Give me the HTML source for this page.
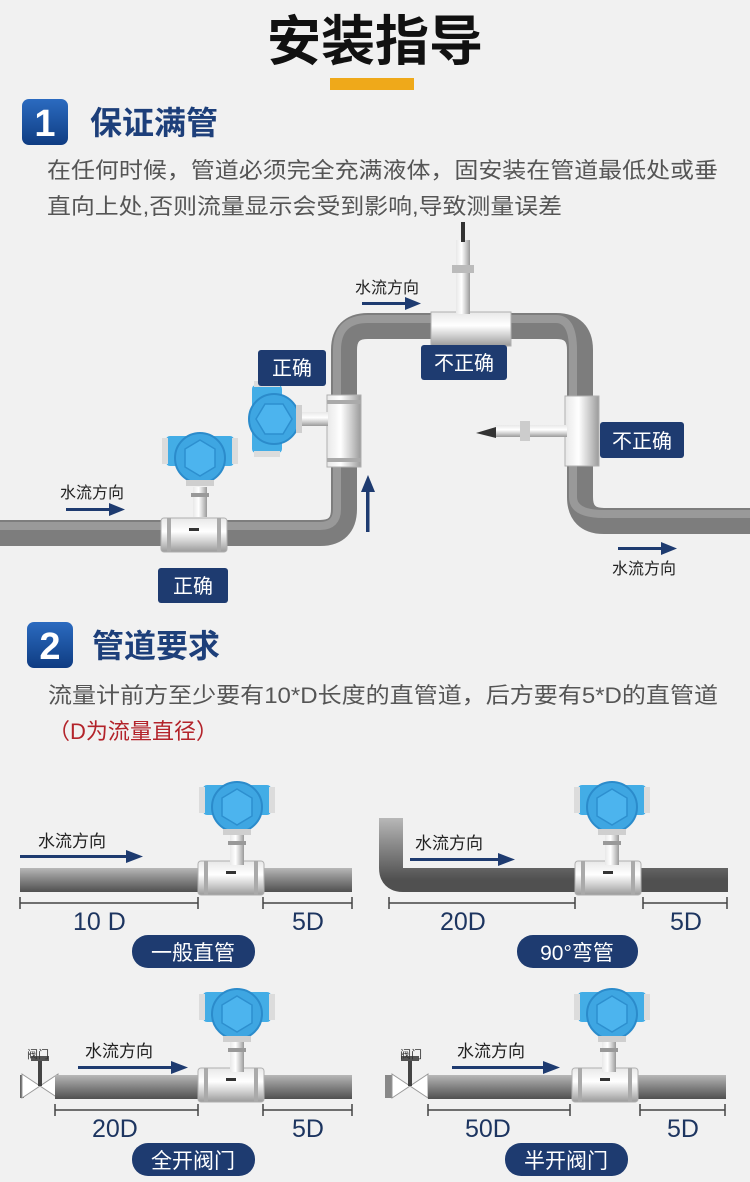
<!DOCTYPE html>
<html><head><meta charset="utf-8">
<style>
html,body{margin:0;padding:0;background:#f1f1f1;}
svg{display:block;}
text{font-family:"Liberation Sans","Noto Sans CJK SC",sans-serif;}
</style></head>
<body>
<svg width="750" height="1182" viewBox="0 0 750 1182" xmlns="http://www.w3.org/2000/svg">
<defs>
<linearGradient id="ph" x1="0" y1="0" x2="0" y2="1">
<stop offset="0" stop-color="#b8b8b8"/><stop offset="0.35" stop-color="#929292"/><stop offset="1" stop-color="#505050"/></linearGradient>
<linearGradient id="sv" x1="0" y1="0" x2="0" y2="1">
<stop offset="0" stop-color="#e8e8e8"/><stop offset="0.4" stop-color="#ffffff"/><stop offset="0.7" stop-color="#cfcfcf"/><stop offset="1" stop-color="#9a9a9a"/></linearGradient>
<linearGradient id="svh" x1="0" y1="0" x2="1" y2="0">
<stop offset="0" stop-color="#e8e8e8"/><stop offset="0.4" stop-color="#ffffff"/><stop offset="0.7" stop-color="#cfcfcf"/><stop offset="1" stop-color="#9a9a9a"/></linearGradient>
<linearGradient id="bdg" x1="0" y1="0" x2="0" y2="1">
<stop offset="0" stop-color="#2b6bc0"/><stop offset="1" stop-color="#0f3c82"/></linearGradient>
<g id="head">
<rect x="-34" y="-22" width="68" height="30" rx="4" fill="#43ade6"/>
<rect x="-38" y="-20" width="6" height="26" fill="#dcdcdc"/>
<rect x="32" y="-20" width="6" height="26" fill="#dcdcdc"/>
<circle cx="0" cy="0" r="25" fill="#3ea6e2" stroke="#2b8bcb" stroke-width="2"/>
<polygon points="0,-18 15,-9 15,9 0,18 -15,9 -15,-9" fill="#4cb4ee" stroke="#2d8fcf" stroke-width="1.5"/>
<rect x="-14" y="22" width="28" height="6" fill="#cfcfcf"/>
</g>
<g id="stem">
<rect x="-7" y="0" width="14" height="30" fill="url(#svh)"/>
<rect x="-9" y="6" width="18" height="4" fill="#999"/>
</g>
<g id="fit">
<rect x="0" y="-4" width="66" height="34" rx="3" fill="url(#sv)" stroke="#b0b0b0"/>
<rect x="6" y="-4" width="4" height="34" fill="#aaa"/>
<rect x="56" y="-4" width="4" height="34" fill="#aaa"/>
<rect x="28" y="6" width="10" height="3" fill="#333"/>
</g>
<g id="valve">
<polygon points="0,0 18,12 0,24" fill="#fff" stroke="#999"/>
<polygon points="36,0 18,12 36,24" fill="#fff" stroke="#999"/>
<rect x="16" y="-14" width="4" height="26" fill="#444"/>
<rect x="9" y="-18" width="18" height="5" fill="#555"/>
</g>
</defs>

<!-- Header -->
<text x="375" y="60" text-anchor="middle" font-size="54" font-weight="bold" fill="#111">安装指导</text>
<rect x="330" y="78" width="84" height="12" fill="#efa91a"/>
<rect x="22" y="99" width="46" height="46" rx="7" fill="url(#bdg)"/>
<text x="45" y="136" text-anchor="middle" font-size="38" font-weight="bold" fill="#fff">1</text>
<text x="90" y="134" font-size="32" font-weight="bold" fill="#1d3f7a">保证满管</text>
<text x="47" y="178" font-size="22" fill="#555" textLength="671" lengthAdjust="spacingAndGlyphs">在任何时候，管道必须完全充满液体，固安装在管道最低处或垂</text>
<text x="47" y="214" font-size="22" fill="#555" textLength="515" lengthAdjust="spacingAndGlyphs">直向上处,否则流量显示会受到影响,导致测量误差</text>

<!-- Section 1 pipes -->
<path d="M0,533 H320 Q344,533 344,509 V350 Q344,326 368,326 H556 Q580,326 580,350 V497 Q580,521 604,521 H750" fill="none" stroke="#7d7d7d" stroke-width="26"/>
<path d="M0,526 H320 Q337,526 337,509 V350 Q337,319 368,319 H556 Q573,319 573,350 V497 Q573,514 604,514 H750" fill="none" stroke="#a5a5a5" stroke-width="8" opacity="0.7"/>
<!-- meter 1 -->
<use href="#fit" x="161" y="522"/>
<use href="#stem" x="200" y="487"/>
<use href="#head" x="200" y="458"/>
<!-- meter 2 (sideways) -->
<rect x="327" y="395" width="34" height="72" fill="url(#svh)" stroke="#b0b0b0"/>
<rect x="327" y="400" width="34" height="4" fill="#aaa"/>
<rect x="327" y="458" width="34" height="4" fill="#aaa"/>
<rect x="298" y="412" width="30" height="14" fill="url(#sv)"/>
<g transform="translate(274,419) rotate(-90)"><use href="#head"/></g>
<!-- top meter incorrect -->
<rect x="431" y="312" width="80" height="34" fill="url(#sv)" stroke="#b0b0b0"/>
<rect x="456" y="240" width="14" height="74" fill="url(#svh)"/>
<rect x="452" y="265" width="22" height="8" fill="#bbb"/>
<rect x="461" y="222" width="4" height="20" fill="#333"/>
<!-- right meter incorrect -->
<rect x="565" y="396" width="34" height="70" fill="url(#svh)" stroke="#b0b0b0"/>
<rect x="495" y="425" width="72" height="12" fill="url(#sv)"/>
<rect x="520" y="421" width="10" height="20" fill="#ccc"/>
<polygon points="476,433 496,427 496,438" fill="#333"/>
<!-- labels -->
<rect x="258" y="350" width="68" height="36" rx="3" fill="#1e3b70"/>
<text x="292" y="375" text-anchor="middle" font-size="20" fill="#fff">正确</text>
<rect x="421" y="345" width="86" height="35" rx="3" fill="#1e3b70"/>
<text x="464" y="370" text-anchor="middle" font-size="20" fill="#fff">不正确</text>
<rect x="600" y="422" width="84" height="36" rx="3" fill="#1e3b70"/>
<text x="642" y="448" text-anchor="middle" font-size="20" fill="#fff">不正确</text>
<rect x="158" y="568" width="70" height="35" rx="3" fill="#1e3b70"/>
<text x="193" y="593" text-anchor="middle" font-size="20" fill="#fff">正确</text>
<!-- arrows -->
<g fill="#1e3b70">
<text x="355" y="293" font-size="16" fill="#222">水流方向</text>
<rect x="362" y="302" width="45" height="3"/><polygon points="405,297 421,303.5 405,310"/>
<text x="60" y="498" font-size="16" fill="#222">水流方向</text>
<rect x="66" y="508" width="45" height="3"/><polygon points="109,503 125,509.5 109,516"/>
<rect x="366" y="490" width="3.5" height="42"/><polygon points="361,492 368,475 375,492"/>
<text x="612" y="574" font-size="16" fill="#222">水流方向</text>
<rect x="618" y="547" width="45" height="3"/><polygon points="661,542 677,548.5 661,555"/>
</g>

<!-- Section 2 -->
<rect x="27" y="622" width="46" height="46" rx="7" fill="url(#bdg)"/>
<text x="50" y="659" text-anchor="middle" font-size="38" font-weight="bold" fill="#fff">2</text>
<text x="92" y="657" font-size="32" font-weight="bold" fill="#1d3f7a">管道要求</text>
<text x="48" y="703" font-size="22" fill="#555" textLength="670" lengthAdjust="spacingAndGlyphs">流量计前方至少要有10*D长度的直管道，后方要有5*D的直管道</text>
<text x="48" y="739" font-size="22" fill="#b3232a" textLength="170" lengthAdjust="spacingAndGlyphs">（D为流量直径）</text>

<!-- Panel 1 -->
<rect x="20" y="868" width="332" height="24" fill="url(#ph)"/>
<use href="#fit" x="198" y="865"/>
<use href="#stem" x="237" y="835"/>
<use href="#head" x="237" y="807"/>
<text x="38" y="847" font-size="17" fill="#222">水流方向</text>
<rect x="20" y="855" width="108" height="3" fill="#1e3b70"/><polygon points="126,850 143,856.5 126,863" fill="#1e3b70"/>
<g stroke="#444" stroke-width="1.5"><path d="M20,903 H198 M20,897 V909 M198,897 V909 M263,903 H352 M263,897 V909 M352,897 V909"/></g>
<text x="73" y="930" font-size="25" fill="#1d3560">10 D</text>
<text x="292" y="930" font-size="25" fill="#1d3560">5D</text>
<rect x="132" y="935" width="123" height="33" rx="16" fill="#1e3b70"/>
<text x="193" y="960" text-anchor="middle" font-size="21" fill="#fff">一般直管</text>

<!-- Panel 2 -->
<path d="M391,818 V868 Q391,880 403,880 H728" fill="none" stroke="url(#ph)" stroke-width="24"/>
<use href="#fit" x="575" y="865"/>
<use href="#stem" x="612" y="835"/>
<use href="#head" x="612" y="807"/>
<text x="415" y="849" font-size="17" fill="#222">水流方向</text>
<rect x="410" y="858" width="90" height="3" fill="#1e3b70"/><polygon points="498,853 515,859.5 498,866" fill="#1e3b70"/>
<g stroke="#444" stroke-width="1.5"><path d="M389,903 H575 M389,897 V909 M575,897 V909 M643,903 H727 M643,897 V909 M727,897 V909"/></g>
<text x="440" y="930" font-size="25" fill="#1d3560">20D</text>
<text x="670" y="930" font-size="25" fill="#1d3560">5D</text>
<rect x="517" y="935" width="121" height="33" rx="16" fill="#1e3b70"/>
<text x="577" y="960" text-anchor="middle" font-size="21" fill="#fff">90°弯管</text>

<!-- Panel 3 -->
<rect x="20" y="1075" width="4" height="23" fill="#666"/>
<use href="#valve" x="22" y="1074"/>
<rect x="55" y="1075" width="297" height="24" fill="url(#ph)"/>
<use href="#fit" x="198" y="1072"/>
<use href="#stem" x="237" y="1042"/>
<use href="#head" x="237" y="1014"/>
<text x="27" y="1058" font-size="11" fill="#333">阀门</text>
<text x="85" y="1057" font-size="17" fill="#222">水流方向</text>
<rect x="78" y="1066" width="95" height="3" fill="#1e3b70"/><polygon points="171,1061 188,1067.5 171,1074" fill="#1e3b70"/>
<g stroke="#444" stroke-width="1.5"><path d="M55,1110 H198 M55,1104 V1116 M198,1104 V1116 M263,1110 H352 M263,1104 V1116 M352,1104 V1116"/></g>
<text x="92" y="1137" font-size="25" fill="#1d3560">20D</text>
<text x="292" y="1137" font-size="25" fill="#1d3560">5D</text>
<rect x="132" y="1143" width="123" height="33" rx="16" fill="#1e3b70"/>
<text x="193" y="1168" text-anchor="middle" font-size="21" fill="#fff">全开阀门</text>

<!-- Panel 4 -->
<rect x="385" y="1075" width="8" height="23" fill="#888"/>
<use href="#valve" x="392" y="1074"/>
<rect x="428" y="1075" width="298" height="24" fill="url(#ph)"/>
<use href="#fit" x="572" y="1072"/>
<use href="#stem" x="609" y="1042"/>
<use href="#head" x="612" y="1014"/>
<text x="400" y="1058" font-size="11" fill="#333">阀门</text>
<text x="457" y="1057" font-size="17" fill="#222">水流方向</text>
<rect x="452" y="1066" width="93" height="3" fill="#1e3b70"/><polygon points="543,1061 560,1067.5 543,1074" fill="#1e3b70"/>
<g stroke="#444" stroke-width="1.5"><path d="M428,1110 H570 M428,1104 V1116 M570,1104 V1116 M640,1110 H725 M640,1104 V1116 M725,1104 V1116"/></g>
<text x="465" y="1137" font-size="25" fill="#1d3560">50D</text>
<text x="667" y="1137" font-size="25" fill="#1d3560">5D</text>
<rect x="505" y="1143" width="123" height="33" rx="16" fill="#1e3b70"/>
<text x="566" y="1168" text-anchor="middle" font-size="21" fill="#fff">半开阀门</text>
</svg>
</body></html>
